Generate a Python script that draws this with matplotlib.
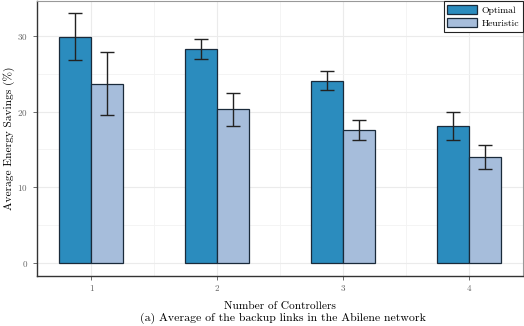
import matplotlib
matplotlib.use("Agg")
import matplotlib.pyplot as plt
import numpy as np
from matplotlib.ticker import MultipleLocator

plt.rcParams['font.family'] = ['cmr10', 'DejaVu Serif']
plt.rcParams['axes.formatter.use_mathtext'] = True

controllers = [1, 2, 3, 4]
optimal = [29.9, 28.3, 24.1, 18.1]
optimal_lo = [26.8, 26.9, 22.9, 16.3]
optimal_hi = [33.0, 29.6, 25.3, 19.9]
heuristic = [23.7, 20.4, 17.6, 14.0]
heuristic_lo = [19.5, 18.1, 16.3, 12.4]
heuristic_hi = [27.9, 22.5, 18.9, 15.6]

fig = plt.figure(figsize=(5.24, 3.26), dpi=100)
ax = fig.add_axes([37/524, 1 - 276/326, (523-37)/524, (276-1)/326])

x = np.array(controllers, dtype=float)
w = 0.254
c_opt = '#2b8cbe'
c_heu = '#a6bddb'
edge = '#1a2a3a'

ax.bar(x - w/2, optimal, w, color=c_opt, edgecolor=edge, linewidth=0.9, label='Optimal', zorder=3)
ax.bar(x + w/2, heuristic, w, color=c_heu, edgecolor=edge, linewidth=0.9, label='Heuristic', zorder=3)

oerr = [np.array(optimal) - np.array(optimal_lo), np.array(optimal_hi) - np.array(optimal)]
herr = [np.array(heuristic) - np.array(heuristic_lo), np.array(heuristic_hi) - np.array(heuristic)]
ax.errorbar(x - w/2, optimal, yerr=oerr, fmt='none', ecolor='#222222', elinewidth=1.0, capsize=5, capthick=1.0, zorder=4)
ax.errorbar(x + w/2, heuristic, yerr=herr, fmt='none', ecolor='#222222', elinewidth=1.0, capsize=5, capthick=1.0, zorder=4)

ax.set_xlim(0.571, 4.43)
ax.set_ylim(-1.7, 34.6)
ax.set_xticks(controllers)
ax.set_xticklabels([str(c) for c in controllers])
ax.yaxis.set_major_locator(MultipleLocator(10))
ax.yaxis.set_minor_locator(MultipleLocator(5))
ax.xaxis.set_minor_locator(MultipleLocator(0.5))
ax.grid(which='major', color='#ebebeb', linewidth=0.8, zorder=0)
ax.grid(which='minor', color='#f3f3f3', linewidth=0.6, zorder=0)
ax.tick_params(which='minor', length=0)
ax.tick_params(which='major', length=3, color='#555555', labelsize=6.5, labelcolor='#666666', width=0.6)
ax.set_axisbelow(True)

for s in ['left', 'bottom']:
    ax.spines[s].set_color('#333333')
    ax.spines[s].set_linewidth(1.0)
for s in ['top', 'right']:
    ax.spines[s].set_color('#999999')
    ax.spines[s].set_linewidth(0.8)

ax.set_xlabel('Number of Controllers', fontsize=8.2, labelpad=6)
ax.set_ylabel('Average Energy Savings (%)', fontsize=8.2)
ax.yaxis.set_label_coords(-22/486, 0.5)

leg = ax.legend(loc='upper right', fontsize=7.0, frameon=True, fancybox=False,
                edgecolor='#222222', framealpha=1, borderaxespad=0.0,
                handlelength=3.0, handleheight=1.1, handletextpad=0.5,
                borderpad=0.4, labelspacing=0.3)
leg.get_frame().set_linewidth(0.8)

fig.text(0.54, 2/326, '(a) Average of the backup links in the Abilene network',
         ha='center', va='bottom', fontsize=8.5)

fig.savefig('out.png', dpi=100)
